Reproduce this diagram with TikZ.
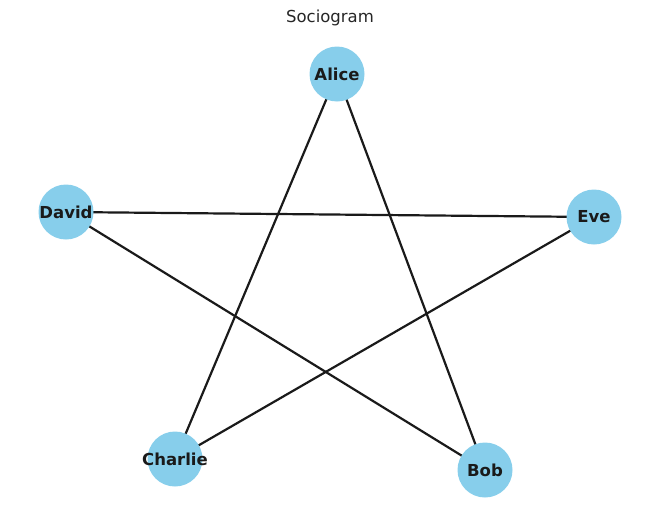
\documentclass[tikz,border=0pt]{standalone}
\usepackage{fontspec}
\setmainfont{DejaVu Sans}
\usetikzlibrary{backgrounds}
\definecolor{skyblue}{RGB}{135,206,235}
\definecolor{edgec}{RGB}{26,26,26}
\definecolor{titlec}{RGB}{38,38,38}
\begin{document}
\begin{tikzpicture}[x=1pt,y=-1pt,
  person/.style={circle,fill=skyblue,minimum size=55pt,inner sep=0pt},
  plabel/.style={inner sep=0pt,font=\fontsize{16.5}{16.5}\selectfont\bfseries,text=edgec},
  tie/.style={draw=edgec,line width=2.2pt}]
\useasboundingbox (0,0) rectangle (660,522);
\node[font=\fontsize{16.5}{16.5}\selectfont,text=titlec] (title) at (330,18) {Sociogram};
\node[person] (alice) at (337,74) {};
\node[person] (david) at (66,212) {};
\node[person] (eve) at (594,217) {};
\node[person] (charlie) at (175,459) {};
\node[person] (bob) at (485,470) {};
\node[plabel] (alicel) at (alice) {Alice};
\node[plabel] (davidl) at (david) {David};
\node[plabel] (evel) at (eve) {Eve};
\node[plabel] (charliel) at (charlie) {Charlie};
\node[plabel] (bobl) at (bob) {Bob};
\begin{scope}[on background layer]
\path[tie] (alice.center) -- (charlie.center);
\path[tie] (alice.center) -- (bob.center);
\path[tie] (david.center) -- (eve.center);
\path[tie] (david.center) -- (bob.center);
\path[tie] (eve.center) -- (charlie.center);
\end{scope}
\end{tikzpicture}
\end{document}
